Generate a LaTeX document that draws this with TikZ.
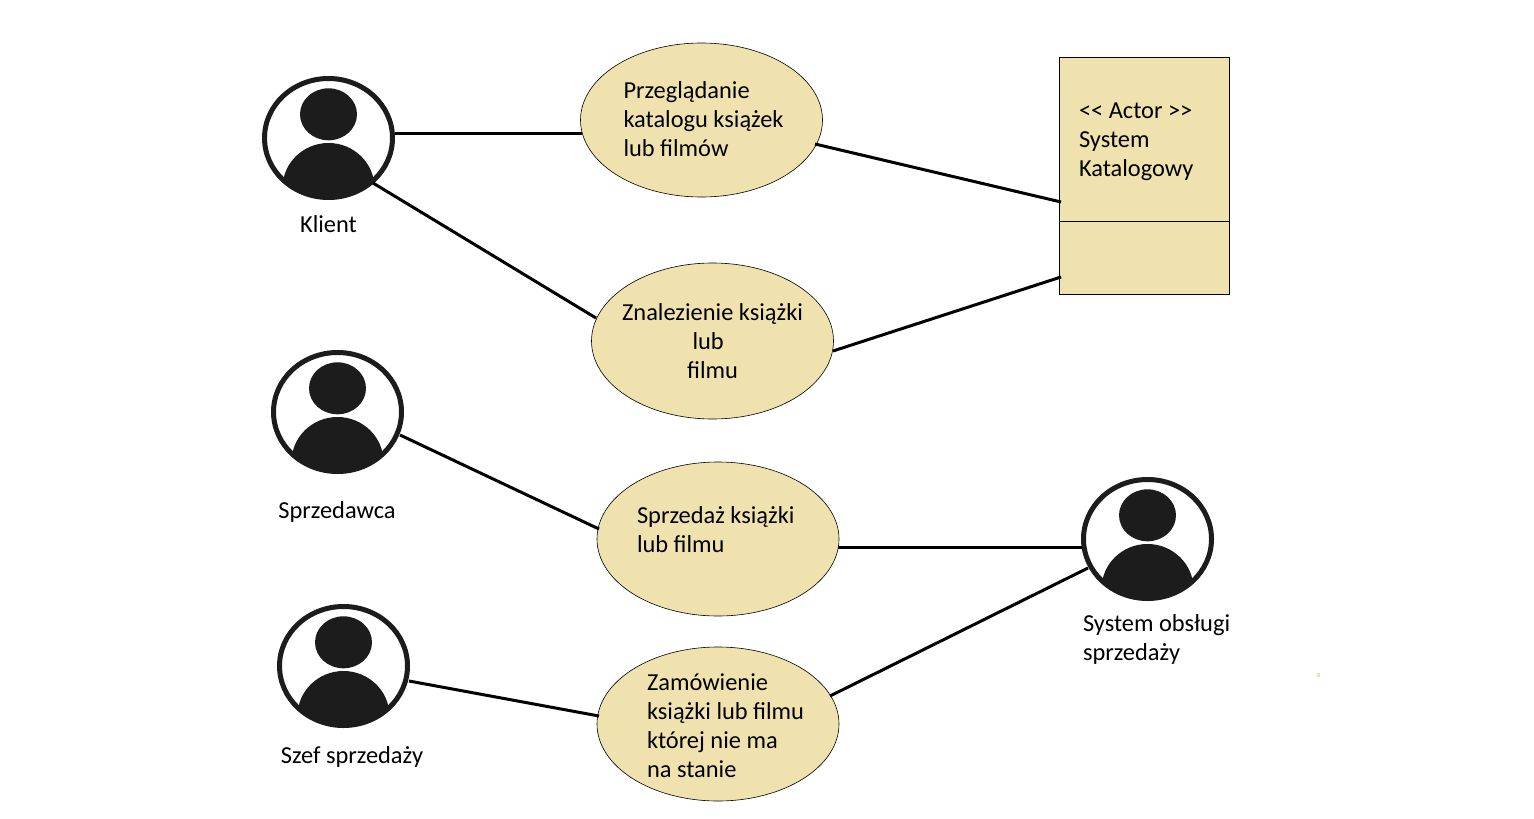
\documentclass[tikz,border=0pt]{standalone}
\usepackage{fontspec}
\setmainfont{Carlito}
\usetikzlibrary{shapes.geometric}
\definecolor{usefill}{HTML}{EFE2AE}
\definecolor{actorink}{HTML}{1C1C1C}
\tikzset{
  x=1pt,y=-1pt,
  usecase/.style={ellipse,draw=black,line width=0.6pt,fill=usefill,inner sep=0pt,outer sep=0pt,minimum width=242pt,minimum height=154pt},
  compartment/.style={rectangle,draw=black,line width=1pt,fill=usefill,inner sep=0pt,outer sep=0pt,minimum width=170pt},
  actor/.style={ellipse,draw=actorink,fill=white,line width=5pt,inner sep=0pt,outer sep=0pt,minimum width=128pt,minimum height=119pt,
    path picture={
      \fill[actorink] ([yshift=23.7pt]path picture bounding box.center) ellipse [x radius=28.5pt,y radius=26pt];
      \fill[actorink] ([yshift=-50pt]path picture bounding box.center) ellipse [x radius=46pt,y radius=45pt];
    }},
  link/.style={draw=black,line width=3pt},
  txt/.style={inner sep=0pt,outer sep=0pt,text=black,font=\fontsize{24.4}{29}\selectfont},
  txtl/.style={txt,anchor=west,align=left},
  txtc/.style={txt,anchor=center,align=center}
}
\begin{document}
\begin{tikzpicture}
\useasboundingbox (0,0) rectangle (1534,819);
% actors
\node[actor] (klient) at (328.5,138) {};
\node[actor] (sprzedawca) at (337.5,412) {};
\node[actor] (szef) at (343.5,666) {};
\node[actor] (system) at (1147.5,539) {};
% use cases
\node[usecase] (e1) at (701.5,120) {};
\node[usecase,minimum height=156pt] (e2) at (712.5,341) {};
\node[usecase] (e3) at (718,539) {};
\node[usecase] (e4) at (718,724) {};
% external actor box
\node[compartment,minimum height=164pt] (boxtop) at (1144.5,139) {};
\node[compartment,minimum height=73pt] (boxlow) at (1144.5,257.5) {};
% connectors
\draw[link] ([xshift=66.5pt,yshift=5pt]klient.center) -- ([xshift=-119.5pt,yshift=-13pt]e1.center);
\draw[link] ([xshift=44.5pt,yshift=-45pt]klient.center) -- ([xshift=-116.5pt,yshift=23pt]e2.center);
\draw[link] ([xshift=113.5pt,yshift=-24pt]e1.center) -- ([xshift=-83.5pt,yshift=-63pt]boxtop.center);
\draw[link] ([xshift=120.5pt,yshift=-10pt]e2.center) -- ([xshift=-83.5pt,yshift=-19.5pt]boxlow.center);
\draw[link] ([xshift=62.5pt,yshift=-23pt]sprzedawca.center) -- ([xshift=-119pt,yshift=10pt]e3.center);
\draw[link] ([xshift=120pt,yshift=-8.5pt]e3.center) -- ([xshift=-65.5pt,yshift=-8.5pt]system.center);
\draw[link] ([xshift=65.5pt,yshift=-15pt]szef.center) -- ([xshift=-119pt,yshift=8pt]e4.center);
\draw[link] ([xshift=112pt,yshift=28pt]e4.center) -- ([xshift=-59.5pt,yshift=-29pt]system.center);
% labels
\node[txtc] (lklient) at (328.5,224) {Klient};
\node[txtc] (lsprz) at (337,512) {Sprzedawca};
\node[txtc] (lszef) at (352,757) {Szef sprzedaży};
\node[txtl] (lsys) at (1083,639) {System obsługi\\sprzedaży};
\node[txtl] (t1) at (623.5,119) {Przeglądanie\\katalogu książek\\lub filmów};
\node[txtc] (t2) at (712.5,341) {Znalezienie książki\\\makebox[40pt][l]{lub}\\filmu};
\node[txtl] (t3) at (637,529.5) {Sprzedaż książki\\lub filmu};
\node[txtl] (t4) at (647,726) {Zamówienie\\książki lub filmu\\której nie ma\\na stanie};
\node[txtl] (t5) at (1079,141.5) {<{}< Actor >{}>\\System\\Katalogowy};
% stray speck
\fill[usefill] (1317,673) rectangle (1320,677);
\end{tikzpicture}
\end{document}
